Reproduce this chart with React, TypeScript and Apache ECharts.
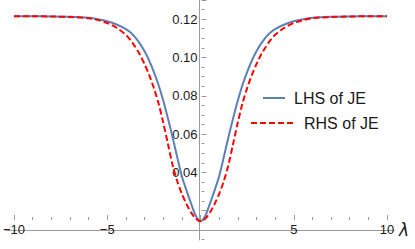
import React, { useEffect, useRef } from "react";
import * as echarts from "echarts";

const lambdaValues = [-10, -9, -8, -7, -6, -5.5, -5, -4.5, -4, -3.75, -3.5, -3.25, -3, -2.75, -2.5, -2.25, -2, -1.75, -1.5, -1.25, -1, -0.75, -0.5, -0.25, 0, 0.25, 0.5, 0.75, 1, 1.25, 1.5, 1.75, 2, 2.25, 2.5, 2.75, 3, 3.25, 3.5, 3.75, 4, 4.5, 5, 5.5, 6, 7, 8, 9, 10];

const lhsValues = [0.1215, 0.1215, 0.1214, 0.1212, 0.1207, 0.12, 0.1189, 0.1172, 0.1148, 0.113, 0.1105, 0.1072, 0.1032, 0.0983, 0.0924, 0.0856, 0.0775, 0.0683, 0.0585, 0.048, 0.038, 0.0305, 0.0236, 0.0172, 0.0145, 0.0172, 0.0236, 0.0305, 0.038, 0.048, 0.0585, 0.0683, 0.0775, 0.0856, 0.0924, 0.0983, 0.1032, 0.1072, 0.1105, 0.113, 0.1148, 0.1172, 0.1189, 0.12, 0.1207, 0.1212, 0.1214, 0.1215, 0.1215];

const rhsValues = [0.1215, 0.1215, 0.1214, 0.1211, 0.1205, 0.1195, 0.118, 0.1155, 0.1118, 0.109, 0.1055, 0.1015, 0.0965, 0.0908, 0.084, 0.076, 0.066, 0.055, 0.044, 0.0355, 0.0288, 0.0234, 0.019, 0.0158, 0.0145, 0.0158, 0.019, 0.0234, 0.0288, 0.0355, 0.044, 0.055, 0.066, 0.076, 0.084, 0.0908, 0.0965, 0.1015, 0.1055, 0.109, 0.1118, 0.1155, 0.118, 0.1195, 0.1205, 0.1211, 0.1214, 0.1215, 0.1215];

const yLabelMin = 0.04;
const yLabelMax = 0.12;

const AXIS_COLOR = "#9a9a9a";
const TEXT_COLOR = "#1a1a1a";
const FONT = "Liberation Sans";

export default function App() {
  const ref = useRef<HTMLDivElement>(null);
  useEffect(() => {
    document.body.style.margin = "0";
    if (!ref.current) return;
    const chart = echarts.init(ref.current, null, { renderer: "svg" });
    const lhs = lambdaValues.map((x, i) => [x, lhsValues[i]]);
    const rhs = lambdaValues.map((x, i) => [x, rhsValues[i]]);
    chart.setOption({
      animation: false,
      backgroundColor: "#ffffff",
      grid: [
        { left: 12, right: 28, top: -5, bottom: -10, containLabel: false },
        { left: 5, right: 21, top: 0, bottom: 9, containLabel: false },
      ],
      legend: [
        {
          data: ["LHS of JE"],
          left: 262,
          top: 89,
          padding: 0,
          itemWidth: 22,
          itemHeight: 10,
          itemStyle: { opacity: 0 },
          textStyle: { fontFamily: FONT, fontSize: 16, color: TEXT_COLOR, lineHeight: 18, padding: [0, 0, 0, 4] },
        },
        {
          data: ["RHS of JE"],
          left: 250,
          top: 114,
          padding: 0,
          itemWidth: 42,
          itemHeight: 10,
          itemStyle: { opacity: 0 },
          textStyle: { fontFamily: FONT, fontSize: 16, color: TEXT_COLOR, lineHeight: 18, padding: [0, 0, 0, 6] },
        },
      ],
      xAxis: [
        {
          type: "value",
          gridIndex: 0,
          min: -10,
          max: 10,
          interval: 5,
          position: "bottom",
          offset: -29,
          axisLine: { show: false, onZero: false },
          axisTick: { show: true, inside: true, length: 5, lineStyle: { color: AXIS_COLOR } },
          minorTick: { show: true, splitNumber: 5, length: 3, lineStyle: { color: AXIS_COLOR } },
          axisLabel: {
            show: true,
            margin: 3,
            fontFamily: FONT,
            fontSize: 13,
            color: TEXT_COLOR,
            showMinLabel: true,
            showMaxLabel: true,
            formatter: (v: number) => (v === 0 ? "" : String(v).replace("-", "\u2212")),
          },
          splitLine: { show: false },
          minorSplitLine: { show: false },
        },
        {
          type: "value",
          gridIndex: 1,
          min: -10.375,
          max: 10.375,
          position: "bottom",
          offset: -10.2,
          name: "λ",
          nameLocation: "end",
          nameGap: 5,
          nameTextStyle: { fontFamily: "DejaVu Sans", fontStyle: "italic", fontSize: 17, color: TEXT_COLOR },
          axisLine: { show: true, onZero: false, lineStyle: { color: AXIS_COLOR, width: 1 } },
          axisTick: { show: false },
          axisLabel: { show: false },
          splitLine: { show: false },
        },
      ],
      yAxis: [
        {
          type: "value",
          gridIndex: 0,
          min: 0,
          max: 0.13,
          interval: 0.02,
          position: "left",
          offset: -187.5,
          axisLine: { show: false, onZero: false },
          axisTick: { show: true, inside: true, length: 5, lineStyle: { color: AXIS_COLOR } },
          minorTick: { show: true, splitNumber: 4, length: 3, lineStyle: { color: AXIS_COLOR } },
          axisLabel: {
            show: true,
            margin: 4,
            fontFamily: FONT,
            fontSize: 13,
            color: TEXT_COLOR,
            showMinLabel: true,
            showMaxLabel: true,
            formatter: (v: number) => (v >= yLabelMin - 1e-6 && v <= yLabelMax + 1e-6 ? v.toFixed(2) : ""),
          },
          splitLine: { show: false },
          minorSplitLine: { show: false },
        },
        {
          type: "value",
          gridIndex: 1,
          min: 0,
          max: 1,
          position: "left",
          axisLine: { show: true, onZero: true, lineStyle: { color: AXIS_COLOR, width: 1 } },
          axisTick: { show: false },
          axisLabel: { show: false },
          splitLine: { show: false },
        },
      ],
      series: [
        {
          name: "LHS of JE",
          type: "line",
          xAxisIndex: 0,
          yAxisIndex: 0,
          data: lhs,
          symbol: "none",
          smooth: 0.3,
          lineStyle: { color: "#5E81B5", width: 2 },
          itemStyle: { color: "#5E81B5" },
          z: 2,
        },
        {
          name: "RHS of JE",
          type: "line",
          xAxisIndex: 0,
          yAxisIndex: 0,
          data: rhs,
          symbol: "none",
          smooth: 0.3,
          lineStyle: { color: "#ff0000", width: 2, type: [6, 3] },
          itemStyle: { color: "#ff0000" },
          z: 3,
        },
      ],
    });
    return () => chart.dispose();
  }, []);
  return <div ref={ref} style={{ width: 415, height: 249 }} />;
}
